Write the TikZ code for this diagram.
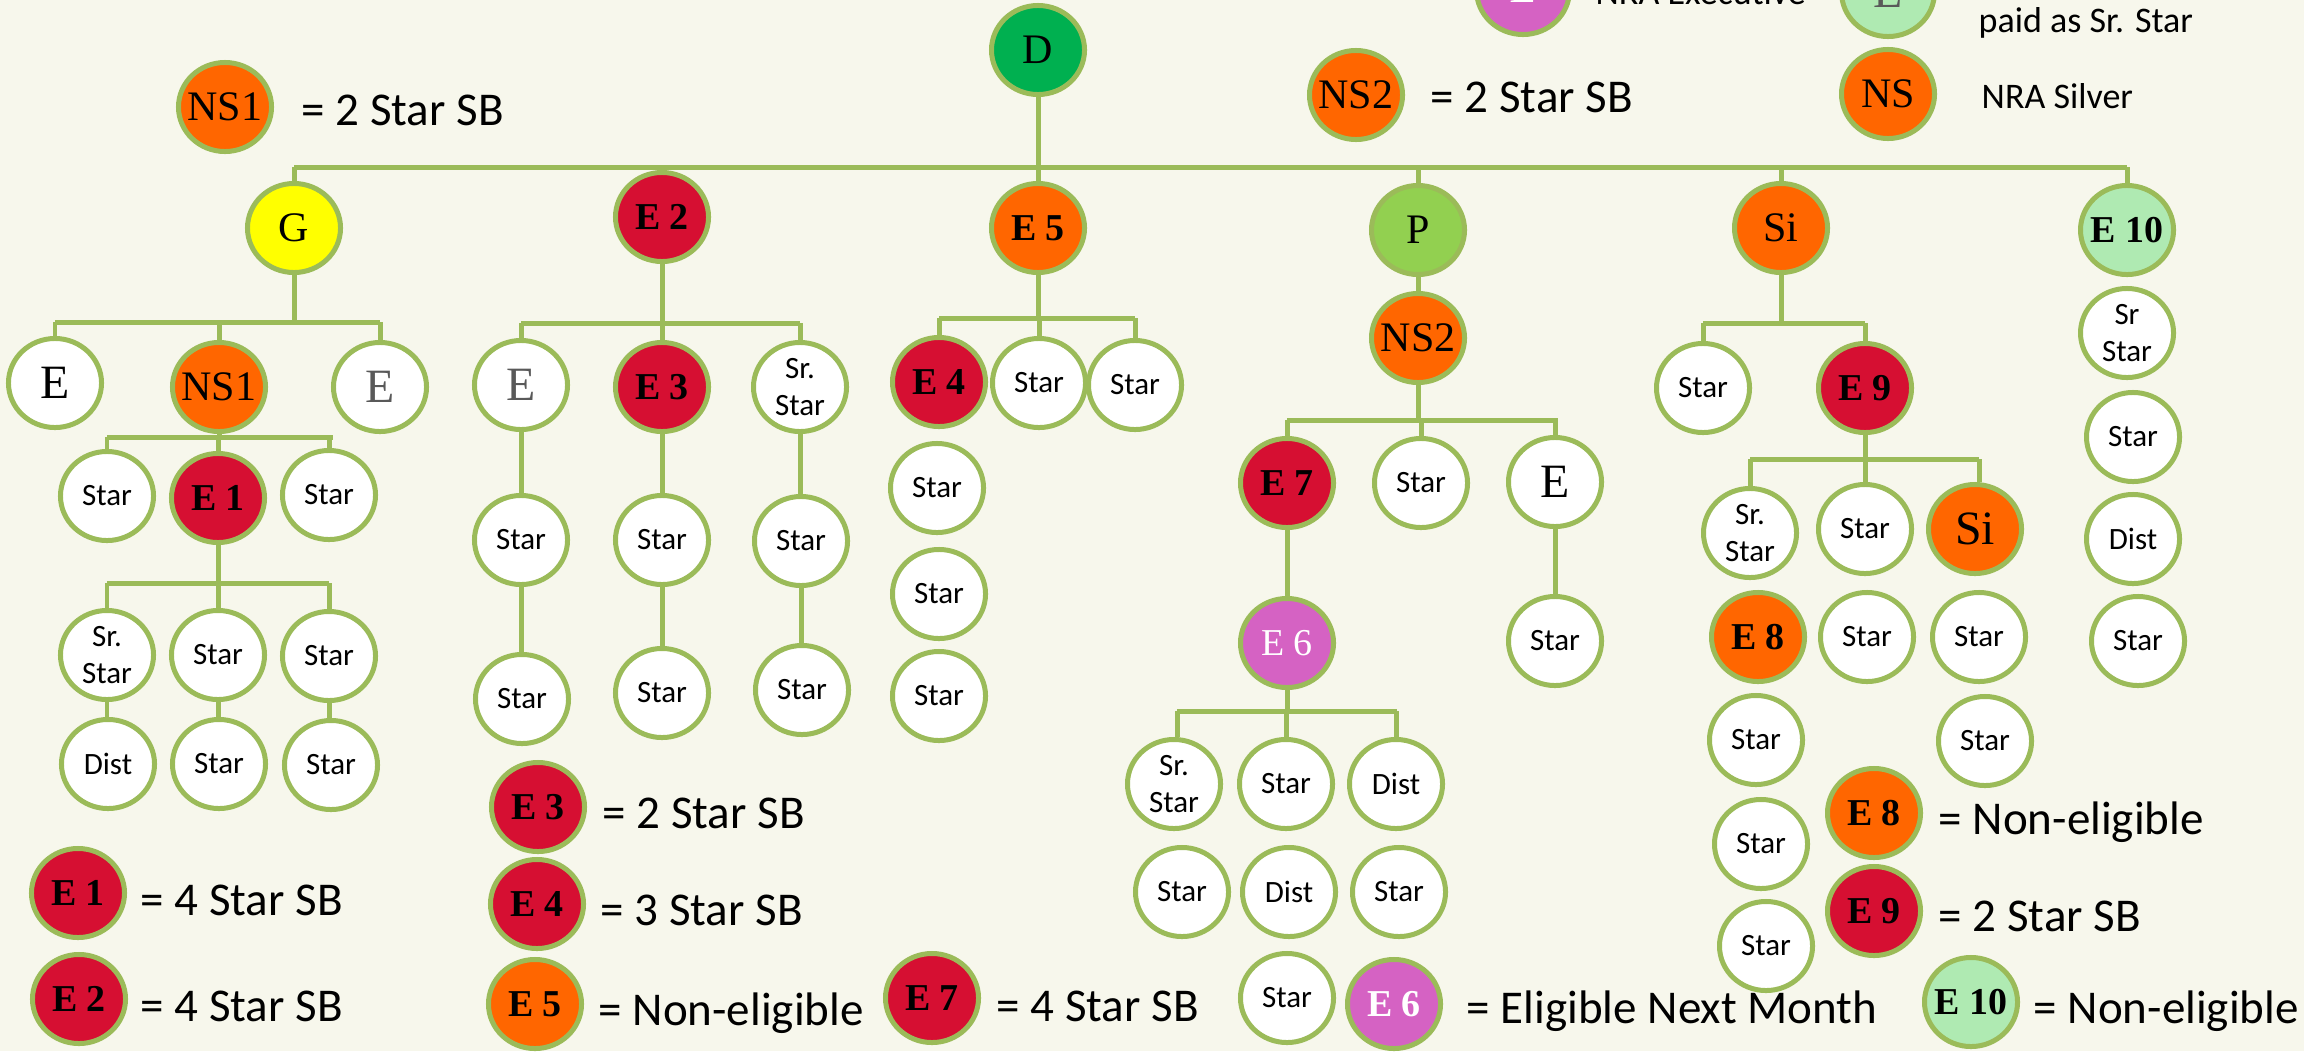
\documentclass[tikz,border=0pt]{standalone}
\usepackage{fontspec}
\setmainfont{Carlito}
\newfontfamily\tms{Liberation Serif}
\usetikzlibrary{shapes.geometric}
\definecolor{bg}{HTML}{F7F7EC}
\definecolor{olv}{HTML}{9BBB59}
\definecolor{org}{HTML}{FF6600}
\definecolor{crm}{HTML}{D60F32}
\definecolor{ylw}{HTML}{FFFF00}
\definecolor{dgr}{HTML}{00B050}
\definecolor{lgr}{HTML}{92D050}
\definecolor{pgr}{HTML}{AFEAB2}
\definecolor{pnk}{HTML}{D562C3}
\definecolor{gry}{HTML}{595959}
\newcommand{\fsLeg}{\fontsize{13.37pt}{16pt}\selectfont}
\newcommand{\fsLegS}{\fontsize{10.24pt}{12pt}\selectfont}
\newcommand{\fsStar}{\fontsize{8.82pt}{10.5pt}\selectfont}
\newcommand{\fsBold}{\fontsize{10.8pt}{12pt}\selectfont}
\newcommand{\fsSerif}{\fontsize{11.95pt}{13pt}\selectfont}
\newcommand{\fsE}{\fontsize{13.6pt}{15pt}\selectfont}
\newcommand{\zb}[1]{\makebox[0pt]{#1}}
\begin{document}
\begin{tikzpicture}[x=0.01cm,y=-0.01cm,
  nd/.style={ellipse, draw=olv, line width=1.42pt, minimum width=0.93cm, minimum height=0.89cm, inner sep=0pt, fill=white, font=\fsStar, align=center},
  bE/.style={nd, font=\tms\bfseries\fsBold},
  sE/.style={nd, font=\tms\fsSerif},
  bigE/.style={nd, font=\tms\fsE},
  conn/.style={draw=olv, line width=1.42pt},
  leg/.style={anchor=base west, inner sep=0pt, font=\fsLeg},
  legs/.style={anchor=base west, inner sep=0pt, font=\fsLegS}]

\clip (0,0) rectangle (2304,1051);
\fill[bg] (0,0) rectangle (2304,1051);

% ---------- top level ----------
\node[sE, fill=dgr] (D) at (1038,50) {\zb{D}};
\node[sE, fill=ylw] (G) at (294,228) {\zb{G}};
\node[bE, fill=crm] (E2) at (662,217) {\zb{E 2}};
\node[bE, fill=org] (E5) at (1038,228) {\zb{E 5}};
\node[sE, fill=lgr] (P) at (1418,230) {\zb{P}};
\node[sE, fill=org] (Si) at (1781,228) {\zb{Si}};
\node[bE, fill=pgr] (E10) at (2127,230) {\zb{E 10}};

% ---------- G subtree ----------
\node[bigE] (Ga) at (55,383) {\zb{E}};
\node[sE, fill=org] (NS1) at (219,387) {\zb{NS1}};
\node[bigE, text=gry] (Gc) at (380,387) {\zb{E}};
\node[nd] (n1a) at (107,496) {Star};
\node[bE, fill=crm] (E1) at (218,498) {\zb{E 1}};
\node[nd] (n1c) at (329,495) {Star};
\node[nd] (e1a) at (107,655) {Sr.\\Star};
\node[nd] (e1b) at (218,655) {Star};
\node[nd] (e1c) at (329,656) {Star};
\node[nd] (e1d) at (108,764) {Dist};
\node[nd] (e1e) at (219,764) {Star};
\node[nd] (e1f) at (331,765) {Star};

% ---------- E2 subtree ----------
\node[bigE, text=gry] (E2a) at (521,385) {\zb{E}};
\node[bE, fill=crm] (E3) at (662,387) {\zb{E 3}};
\node[nd] (E2c) at (800,387) {Sr.\\Star};
\node[nd] (E2a1) at (521,540) {Star};
\node[nd] (E2a2) at (522,699) {Star};
\node[nd] (E31) at (662,540) {Star};
\node[nd] (E32) at (662,693) {Star};
\node[nd] (E2c1) at (801,541) {Star};
\node[nd] (E2c2) at (802,690) {Star};

% ---------- E5 subtree ----------
\node[bE, fill=crm] (E4) at (939,382) {\zb{E 4}};
\node[nd] (E5b) at (1039,383) {Star};
\node[nd] (E5c) at (1135,385) {Star};
\node[nd] (E41) at (937,488) {Star};
\node[nd] (E42) at (939,594) {Star};
\node[nd] (E43) at (939,696) {Star};

% ---------- P subtree ----------
\node[sE, fill=org] (NS2) at (1418,338) {\zb{NS2}};
\node[bE, fill=crm] (E7) at (1287,483) {\zb{E 7}};
\node[nd] (NSb) at (1421,483) {Star};
\node[bigE] (NSc) at (1555,482) {\zb{E}};
\node[sE, fill=pnk, text=white, font=\tms\fsBold] (E6) at (1287,643) {\zb{E 6}};
\node[nd] (NSc1) at (1555,641) {Star};
\node[nd] (E6a) at (1174,784) {Sr.\\Star};
\node[nd] (E6b) at (1286,784) {Star};
\node[nd] (E6c) at (1396,784) {Dist};
\node[nd] (E6d) at (1182,892) {Star};
\node[nd] (E6e) at (1289,892) {Dist};
\node[nd] (E6f) at (1399,892) {Star};
\node[nd] (E6g) at (1287,998) {Star};

% ---------- Si subtree ----------
\node[nd] (Sia) at (1703,388) {Star};
\node[bE, fill=crm] (E9) at (1865,388) {\zb{E 9}};
\node[nd] (E9a) at (1750,533) {Sr.\\Star};
\node[nd] (E9b) at (1865,529) {Star};
\node[sE, fill=org, font=\tms\fsE] (Si2) at (1975,529) {\zb{Si}};
\node[bE, fill=org] (E8) at (1758,637) {\zb{E 8}};
\node[nd] (E9b1) at (1867,637) {Star};
\node[nd] (Si21) at (1979,637) {Star};
\node[nd] (E81) at (1756,740) {Star};
\node[nd] (Si22) at (1985,741) {Star};
\node[nd] (E82) at (1761,844) {Star};
\node[nd] (E83) at (1766,946) {Star};

% ---------- E10 column ----------
\node[nd] (E10a) at (2127,333) {Sr\\Star};
\node[nd] (E10b) at (2133,437) {Star};
\node[nd] (E10c) at (2133,539) {Dist};
\node[nd] (E10d) at (2138,641) {Star};

% ---------- connectors ----------
\coordinate (tL) at (294,167);
\coordinate (tR) at (2127,167);
\draw[conn] (tL) -- (tR);
\draw[conn] (D) -- (E5);
\draw[conn] (G |- tL) -- (G);
\draw[conn] (P |- tL) -- (P);
\draw[conn] (Si |- tL) -- (Si);
\draw[conn] (E10 |- tL) -- (E10);

\coordinate (gL) at (55,322);
\coordinate (gR) at (380,322);
\draw[conn] (gL) -- (gR);
\draw[conn] (G) -- (G |- gL);
\draw[conn] (Ga |- gL) -- (Ga);
\draw[conn] (NS1 |- gL) -- (NS1);
\draw[conn] (Gc |- gL) -- (Gc);

\coordinate (nL) at (107,437);
\coordinate (nR) at (333,437);
\draw[conn] (nL) -- (nR);
\draw[conn] (NS1) -- (NS1 |- nL);
\draw[conn] (n1a |- nL) -- (n1a);
\draw[conn] (E1 |- nL) -- (E1);
\draw[conn] (n1c |- nL) -- (n1c);

\coordinate (eL) at (107,583);
\coordinate (eR) at (329,583);
\draw[conn] (eL) -- (eR);
\draw[conn] (E1) -- (E1 |- eL);
\draw[conn] (e1a |- eL) -- (e1a);
\draw[conn] (e1b |- eL) -- (e1b);
\draw[conn] (e1c |- eL) -- (e1c);
\draw[conn] (e1a) -- (e1a |- e1d.north);
\draw[conn] (e1b) -- (e1b |- e1e.north);
\draw[conn] (e1c) -- (e1c |- e1f.north);

\coordinate (aL) at (521,323);
\coordinate (aR) at (800,323);
\draw[conn] (aL) -- (aR);
\draw[conn] (E2) -- (E3);
\draw[conn] (E2a |- aL) -- (E2a);
\draw[conn] (E2c |- aL) -- (E2c);
\draw[conn] (E2a) -- (E2a |- E2a1.north);
\draw[conn] (E2a1) -- (E2a1 |- E2a2.north);
\draw[conn] (E3) -- (E3 |- E31.north);
\draw[conn] (E31) -- (E31 |- E32.north);
\draw[conn] (E2c) -- (E2c |- E2c1.north);
\draw[conn] (E2c1) -- (E2c1 |- E2c2.north);

\coordinate (bL) at (939,318);
\coordinate (bR) at (1135,318);
\draw[conn] (bL) -- (bR);
\draw[conn] (E5) -- (E5 |- bL);
\draw[conn] (E4 |- bL) -- (E4);
\draw[conn] (E5b |- bL) -- (E5b);
\draw[conn] (E5c |- bL) -- (E5c);

\draw[conn] (P) -- (NS2);
\coordinate (cL) at (1287,420);
\coordinate (cR) at (1558,420);
\draw[conn] (cL) -- (cR);
\draw[conn] (NS2) -- (NS2 |- cL);
\draw[conn] (E7 |- cL) -- (E7);
\draw[conn] (NSb |- cL) -- (NSb);
\draw[conn] (NSc |- cL) -- (NSc);
\draw[conn] (E7) -- (E6);
\draw[conn] (NSc) -- (NSc1);

\coordinate (dL) at (1177,711);
\coordinate (dR) at (1397,711);
\draw[conn] (dL) -- (dR);
\draw[conn] (E6) -- (E6 |- dL);
\draw[conn] (dL) -- (dL |- E6a.north);
\draw[conn] (E6b |- dL) -- (E6b);
\draw[conn] (E6c |- dL) -- (E6c);

\coordinate (fL) at (1703,323);
\coordinate (fR) at (1865,323);
\draw[conn] (fL) -- (fR);
\draw[conn] (Si) -- (Si |- fL);
\draw[conn] (Sia |- fL) -- (Sia);
\draw[conn] (E9 |- fL) -- (E9);

\coordinate (hL) at (1750,459);
\coordinate (hR) at (1979,459);
\draw[conn] (hL) -- (hR);
\draw[conn] (E9) -- (E9b);
\draw[conn] (E9a |- hL) -- (E9a);
\draw[conn] (hR) -- (hR |- Si2.north);

% ---------- legends ----------
\node[sE, fill=org] (lNS1) at (225,107) {\zb{NS1}};
\node[leg] (tNS1) at (301,125) {= 2 Star SB};
\node[sE, fill=org] (lNS2) at (1356,95) {\zb{NS2}};
\node[leg] (tNS2) at (1430,112) {= 2 Star SB};
\node[bE, fill=pnk, text=white] (lEx) at (1523,-10) {\zb{E}};
\node[legs] (tEx) at (1595,4) {NRA Executive};
\node[sE, fill=pgr, text=gry, font=\tms\fsE] (lEs) at (1888,-8) {\zb{E}};
\node[legs] (tEs) at (1978,32) {paid as Sr. Star};
\node[sE, fill=org] (lNS) at (1888,94) {\zb{NS}};
\node[legs] (tNS) at (1981,108) {NRA Silver};

\node[bE, fill=crm] (lE1) at (78,893) {\zb{E 1}};
\node[leg] (tE1) at (140,915) {= 4 Star SB};
\node[bE, fill=crm] (lE2) at (79,999) {\zb{E 2}};
\node[leg] (tE2) at (140,1021) {= 4 Star SB};
\node[bE, fill=crm] (lE3) at (538,807) {\zb{E 3}};
\node[leg] (tE3) at (602,828) {= 2 Star SB};
\node[bE, fill=crm] (lE4) at (537,904) {\zb{E 4}};
\node[leg] (tE4) at (600,925) {= 3 Star SB};
\node[bE, fill=org] (lE5) at (535,1004) {\zb{E 5}};
\node[leg] (tE5) at (598,1025) {= Non-eligible};
\node[bE, fill=crm] (lE7) at (932,998) {\zb{E 7}};
\node[leg] (tE7) at (996,1021) {= 4 Star SB};
\node[bE, fill=pnk, text=white] (lE6) at (1394,1004) {\zb{E 6}};
\node[leg] (tE6) at (1466,1023) {= Eligible Next Month};
\node[bE, fill=org] (lE8) at (1874,813) {\zb{E 8}};
\node[leg] (tE8) at (1938,834) {= Non-eligible};
\node[bE, fill=crm] (lE9) at (1874,911) {\zb{E 9}};
\node[leg] (tE9) at (1938,931) {= 2 Star SB};
\node[bE, fill=pgr] (lE10) at (1971,1002) {\zb{E 10}};
\node[leg] (tE10) at (2033,1023) {= Non-eligible};
\end{tikzpicture}
\end{document}
